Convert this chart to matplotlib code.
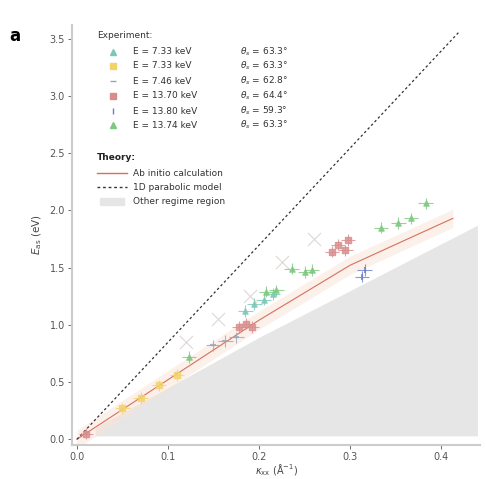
import numpy as np
import matplotlib
matplotlib.use("Agg")
from matplotlib import pyplot as plt

# theory curves
theory_x = [0.0, 0.1, 0.2, 0.3, 0.413]
theory_y = [0.0, 0.52, 1.04, 1.52, 1.93]
parab_x = [0.0, 0.42]
parab_y = [0.0, 3.56]
gray_x = [0.02, 0.2, 0.44]
gray_y = [0.10, 0.89, 1.87]

# experiment series
s1_x = [0.185, 0.195, 0.205, 0.215]
s1_y = [1.12, 1.18, 1.22, 1.27]
s2_x = [0.05, 0.07, 0.09, 0.11]
s2_y = [0.27, 0.36, 0.47, 0.56]
s3_x = [0.15, 0.163, 0.175]
s3_y = [0.82, 0.86, 0.89]
s4_x = [0.01, 0.178, 0.186, 0.192, 0.28, 0.287, 0.295, 0.298]
s4_y = [0.05, 0.98, 1.01, 0.98, 1.64, 1.70, 1.65, 1.74]
s5_x = [0.313, 0.316]
s5_y = [1.42, 1.48]
s6_x = [0.123, 0.208, 0.219, 0.236, 0.251, 0.258, 0.334, 0.353, 0.367, 0.383]
s6_y = [0.72, 1.29, 1.30, 1.49, 1.46, 1.48, 1.85, 1.89, 1.93, 2.06]

# faint markers along the 1D model line
faint_x = [0.12, 0.155, 0.19, 0.225, 0.26]
faint_y = [0.85, 1.05, 1.25, 1.55, 1.75]

labels_e = ["E = 7.33 keV", "E = 7.33 keV", "E = 7.46 keV",
            "E = 13.70 keV", "E = 13.80 keV", "E = 13.74 keV"]
labels_t = [r"$\theta_s$ = 63.3°", r"$\theta_s$ = 63.3°", r"$\theta_s$ = 62.8°",
            r"$\theta_s$ = 64.4°", r"$\theta_s$ = 59.3°", r"$\theta_s$ = 63.3°"]
theory_labels = ["Ab initio calculation", "1D parabolic model", "Other regime region"]

series = [(s1_x, s1_y), (s2_x, s2_y), (s3_x, s3_y),
          (s4_x, s4_y), (s5_x, s5_y), (s6_x, s6_y)]
colors = ["#7cc8b8", "#f2d36b", "#9aa6b8", "#d98c8c", "#6f7fc8", "#7fc87f"]
markers = ["^", "s", "_", "s", "|", "^"]

fig = plt.figure(figsize=(4.86, 4.79), dpi=100)
ax = fig.add_axes([0.148, 0.071, 0.84, 0.877])

gx = np.array(gray_x)
ax.fill_between(gx, 0.03, gray_y, color="#e6e6e6", lw=0, zorder=1)

tx = np.array(theory_x)
ty = np.array(theory_y)
ax.fill_between(tx, ty - 0.08, ty + 0.08, color="#fbe3d6", alpha=0.5, lw=0, zorder=2)
ax.plot(tx, ty, color="#d9705a", lw=0.8, zorder=3)
ax.plot(parab_x, parab_y, color="#333333", lw=0.9, ls=(0, (2, 2)), zorder=3)

ax.scatter(faint_x, faint_y, marker="x", s=90, color="#e0d6d6", lw=0.8, zorder=2)

for (xs, ys), c, m in zip(series, colors, markers):
    ax.errorbar(xs, ys, xerr=0.008, yerr=0.05, fmt="none", ecolor=c, elinewidth=0.8,
                alpha=0.8, zorder=4)
    ax.scatter(xs, ys, marker=m, s=14, color=c, alpha=0.8, zorder=5)

ax.set_xlim(-0.0055, 0.443)
ax.set_ylim(-0.05, 3.62)
ax.set_xticks([0.0, 0.1, 0.2, 0.3, 0.4])
ax.set_yticks([0.0, 0.5, 1.0, 1.5, 2.0, 2.5, 3.0, 3.5])
ax.set_xticklabels(["0.0", "0.1", "0.2", "0.3", "0.4"])
ax.set_yticklabels(["0.0", "0.5", "1.0", "1.5", "2.0", "2.5", "3.0", "3.5"])
ax.tick_params(labelsize=7, colors="#555555", length=3, width=0.6, pad=2)
for side in ["top", "right"]:
    ax.spines[side].set_visible(False)
for side in ["left", "bottom"]:
    ax.spines[side].set_color("#cccccc")
    ax.spines[side].set_linewidth(1.5)

ax.set_ylabel(r"$E_{\rm as}$ (eV)", fontsize=7.5, color="#444444", labelpad=4)
ax.set_xlabel(r"$\kappa_{\rm xx}$ (Å$^{-1}$)", fontsize=7, color="#444444", labelpad=0)
fig.text(0.02, 0.915, "a", fontsize=12, fontweight="bold")

# manual legend, figure pixel coordinates
W, H = 486, 479
def fx(px):
    return px / W
def fy(py):
    return 1 - py / H

fig.text(fx(97), fy(36), "Experiment:", fontsize=6.5, va="center", color="#333333")
rows = [52, 66, 81, 96, 111, 125]
for r, c, m, le, lt in zip(rows, colors, markers, labels_e, labels_t):
    fig.lines.append(plt.Line2D([fx(113)], [fy(r)], marker=m, color=c, markersize=4,
                                ls="none", transform=fig.transFigure))
    fig.text(fx(133), fy(r), le, fontsize=6.5, va="center", color="#333333")
    fig.text(fx(240), fy(r), lt, fontsize=6.5, va="center", color="#333333")

fig.text(fx(97), fy(157), "Theory:", fontsize=6.5, va="center", color="#222222",
         fontweight="bold")
fig.lines.append(plt.Line2D([fx(97), fx(127)], [fy(173), fy(173)], color="#d9705a", lw=1.0,
                            transform=fig.transFigure))
fig.lines.append(plt.Line2D([fx(97), fx(127)], [fy(187), fy(187)], color="#333333", lw=1.0,
                            ls=(0, (2, 2)), transform=fig.transFigure))
fig.patches.append(plt.Rectangle((fx(100), fy(205)), fx(24), fy(0) - fy(7), color="#e6e6e6",
                                 transform=fig.transFigure))
for r, t in zip([173, 187, 202], theory_labels):
    fig.text(fx(133), fy(r), t, fontsize=6.5, va="center", color="#333333")

fig.savefig("out.png", dpi=100)
